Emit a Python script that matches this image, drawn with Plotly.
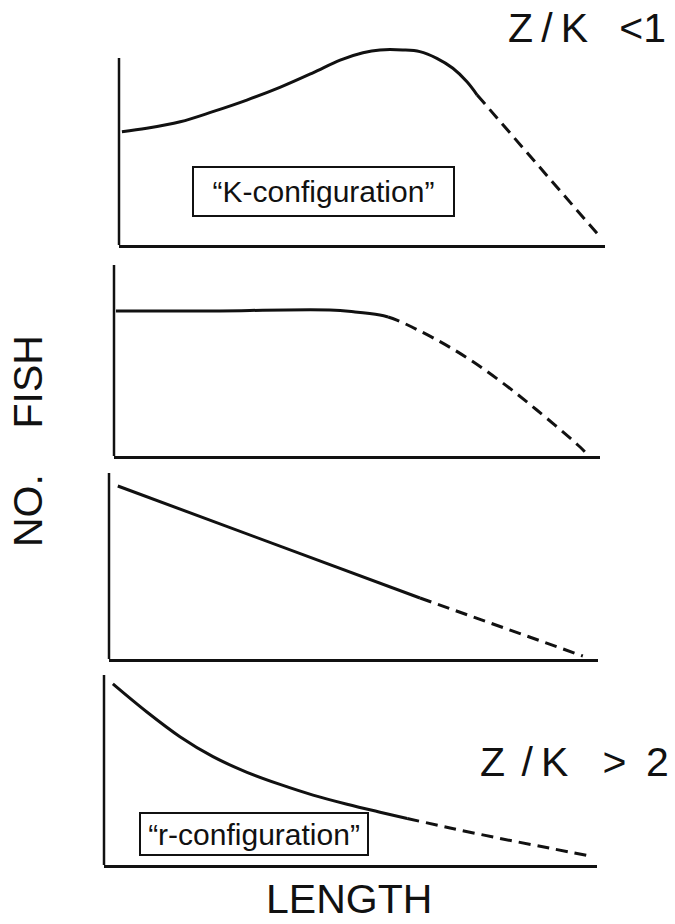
import plotly.graph_objects as go

W, H = 675, 924

# ---- data: relative length (0-100) vs relative number of fish (0-100) ----
# Panel 1 (Z/K < 1, "K-configuration")
p1_len_solid = [0.6, 5.7, 12.6, 19.3, 26.3, 33.1, 39.9, 45.5, 50.2, 53.7, 58.4, 61.9, 65.4, 68.7, 71.6, 73.7]
p1_num_solid = [60.6, 62.4, 65.9, 71.3, 77.5, 84.3, 92.1, 98.9, 102.8, 104.3, 104.3, 103.4, 99.8, 94.5, 87.3, 80.2]
p1_len_dash = [73.7, 99.0]
p1_num_dash = [80.2, 4.3]

# Panel 2
p2_len_solid = [0.4, 17.7, 44.4, 49.6, 54.7, 56.4]
p2_num_solid = [75.9, 75.9, 76.4, 75.4, 73.8, 72.8]
p2_len_dash = [56.4, 58.2, 66.5, 73.3, 80.0, 87.0, 95.9, 97.3]
p2_num_dash = [72.8, 71.2, 60.7, 50.3, 38.2, 24.1, 4.7, 1.0]

# Panel 3
p3_len_solid = [1.8, 63.6]
p3_num_solid = [93.0, 32.8]
p3_len_dash = [63.6, 96.9]
p3_num_dash = [32.8, 1.6]

# Panel 4 (Z/K > 2, "r-configuration")
p4_len_solid = [1.8, 8.7, 15.4, 22.1, 29.0, 35.7, 42.4, 49.3, 56.0, 61.5]
p4_num_solid = [95.3, 80.5, 67.5, 57.0, 48.8, 42.4, 36.8, 32.0, 27.8, 24.5]
p4_len_dash = [61.5, 70.2, 80.3, 90.5, 99.0]
p4_num_dash = [24.5, 19.5, 14.0, 8.8, 4.5]

panels = [
    (p1_len_solid, p1_num_solid, p1_len_dash, p1_num_dash),
    (p2_len_solid, p2_num_solid, p2_len_dash, p2_num_dash),
    (p3_len_solid, p3_num_solid, p3_len_dash, p3_num_dash),
    (p4_len_solid, p4_num_solid, p4_len_dash, p4_num_dash),
]

# panel boxes in pixels: left, right, baseline, top of the y-axis line, top of plot area
boxes = [
    (119, 605, 245, 58, 40),
    (114, 600, 456, 265, 262),
    (109, 598, 659, 473, 470),
    (104, 597, 865, 675, 672),
]

INK = "#111111"
FONT = "Liberation Sans, Arial, Helvetica, sans-serif"

fig = go.Figure()
layout = dict(
    width=W, height=H,
    margin=dict(l=0, r=0, t=0, b=0),
    paper_bgcolor="white", plot_bgcolor="white",
    showlegend=False,
    shapes=[], annotations=[],
)

for i, ((xs, ys, xd, yd), (left, right, base, atop, ptop)) in enumerate(zip(panels, boxes), start=1):
    xa = "x" if i == 1 else f"x{i}"
    ya = "y" if i == 1 else f"y{i}"
    ymax = (base - ptop) / (base - atop) * 100
    fig.add_trace(go.Scatter(
        x=xs, y=ys, mode="lines", xaxis=xa, yaxis=ya,
        line=dict(color=INK, width=3, shape="spline", smoothing=1.0),
        hoverinfo="skip",
    ))
    fig.add_trace(go.Scatter(
        x=xd, y=yd, mode="lines", xaxis=xa, yaxis=ya,
        line=dict(color=INK, width=3, dash="12px,7px", shape="spline", smoothing=1.0),
        hoverinfo="skip",
    ))
    xkey = "xaxis" if i == 1 else f"xaxis{i}"
    ykey = "yaxis" if i == 1 else f"yaxis{i}"
    layout[xkey] = dict(
        domain=[left / W, right / W], range=[0, 100], anchor=ya,
        showline=True, linecolor=INK, linewidth=2.5,
        showgrid=False, zeroline=False,
        ticks="inside", tickvals=[100], ticklen=10, tickwidth=2, tickcolor=INK,
        showticklabels=False, fixedrange=True,
    )
    layout[ykey] = dict(
        domain=[1 - base / H, 1 - ptop / H], range=[0, ymax], anchor=xa,
        showline=False, showgrid=False, zeroline=False,
        showticklabels=False, ticks="", fixedrange=True,
    )
    # vertical number axis
    layout["shapes"].append(dict(
        type="line", xref=f"{xa} domain", yref=ya,
        x0=0, x1=0, y0=0, y1=100,
        line=dict(color=INK, width=2.5),
    ))


def px_x(v):
    return v / W


def px_y(v):
    return 1 - v / H


NB, TH = "\u00a0", "\u2009"
ann = layout["annotations"]
big = dict(family=FONT, size=41, color=INK)
ann.append(dict(text=f"Z{TH}/{TH}K{NB*2}{TH}<1", x=px_x(506), y=px_y(28), xref="paper", yref="paper",
                xanchor="left", yanchor="middle", showarrow=False, font=big))
ann.append(dict(text=f"Z{TH*2}/{TH}K{NB*3}>{NB}{TH}2", x=px_x(478), y=px_y(762), xref="paper", yref="paper",
                xanchor="left", yanchor="middle", showarrow=False, font=big))
ann.append(dict(text="LENGTH", x=px_x(349), y=px_y(899), xref="paper", yref="paper",
                xanchor="center", yanchor="middle", showarrow=False, font=big))
ann.append(dict(text=f"NO.{NB*4}FISH", x=px_x(28), y=px_y(441), xref="paper", yref="paper",
                xanchor="center", yanchor="middle", showarrow=False, textangle=-90, font=big))

box_font = dict(family=FONT, size=30, color=INK)
ann.append(dict(text="\u201cK-configuration\u201d", x=px_x(323.5), y=px_y(191.5), xref="paper", yref="paper",
                xanchor="center", yanchor="middle", showarrow=False, font=box_font,
                width=255, height=43, bordercolor=INK, borderwidth=2, borderpad=2, bgcolor="white"))
ann.append(dict(text="\u201cr-configuration\u201d", x=px_x(254), y=px_y(834), xref="paper", yref="paper",
                xanchor="center", yanchor="middle", showarrow=False, font=box_font,
                width=222, height=36, bordercolor=INK, borderwidth=2, borderpad=2, bgcolor="white"))

fig.update_layout(**layout)
fig.write_html("out.html")
